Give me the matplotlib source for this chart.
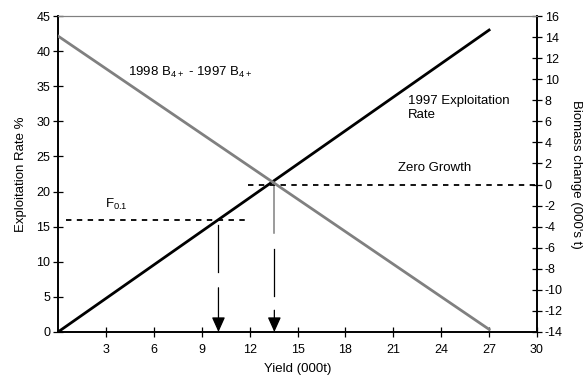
import matplotlib
matplotlib.use("Agg")
import matplotlib.pyplot as plt

plt.rcParams['font.family'] = ['Liberation Sans', 'DejaVu Sans']
plt.rcParams['mathtext.default'] = 'regular'
plt.rcParams['axes.unicode_minus'] = False
plt.rcParams['font.size'] = 9

# Data
yield_er = [0, 27]            # 1997 exploitation rate line (x)
rate_er = [0, 43]             # exploitation rate % (left axis)
yield_bc = [0, 27]            # biomass change line (x)
biomass_bc = [14.1, -13.75]   # biomass change (000's t), right axis
f01_level = 16
f01_x = [0.5, 11.9]
zero_x = [11.9, 30]
f01_yield = 10.05
zg_yield = 13.55

xticks = list(range(3, 31, 3))
left_ticks = list(range(0, 46, 5))
right_ticks = list(range(-14, 17, 2))

fig = plt.figure(figsize=(5.88, 3.77), dpi=100)
ax = fig.add_axes([58/588, 45/377, (537-58)/588, (332-16)/377])
ax2 = ax.twinx()

ax.set_xlim(0, 30)
ax.set_ylim(0, 45)
ax2.set_ylim(-14, 16)

ax.plot(yield_er, rate_er, color='black', lw=2, zorder=3)
ax2.plot(yield_bc, biomass_bc, color='#808080', lw=2, zorder=3)

# dashed reference lines
ax.plot(f01_x, [f01_level, f01_level], color='black', lw=1.3, ls=(0, (3, 3)))
ax2.plot(zero_x, [0, 0], color='black', lw=1.3, ls=(0, (3, 3)))

# arrow 1 (F0.1)
ax.plot([f01_yield, f01_yield], [15.2, 8.5], color='black', lw=0.9)
ax.annotate('', xy=(f01_yield, 0), xytext=(f01_yield, 6.3),
            arrowprops=dict(arrowstyle='-|>,head_length=1.0,head_width=0.45',
                            color='black', lw=0.9, shrinkA=0, shrinkB=0))
# arrow 2 (zero growth)
ax.plot([zg_yield, zg_yield], [20.9, 14.1], color='#808080', lw=1.1)
ax.plot([zg_yield, zg_yield], [11.8, 5.1], color='black', lw=0.9)
ax.annotate('', xy=(zg_yield, 0), xytext=(zg_yield, 3.1),
            arrowprops=dict(arrowstyle='-|>,head_length=1.0,head_width=0.45',
                            color='black', lw=0.9, shrinkA=0, shrinkB=0))

# text labels
fs = 9.5
ax.text(4.4, 37.0, '1998 B$_{4+}$ - 1997 B$_{4+}$', fontsize=fs, va='center', ha='left')
ax.text(21.9, 31.9, '1997 Exploitation\nRate', fontsize=fs, va='center', ha='left', linespacing=1.25)
ax.text(21.3, 23.4, 'Zero Growth', fontsize=fs, va='center', ha='left')
ax.text(2.95, 18.2, 'F$_{0.1}$', fontsize=fs, va='center', ha='left')

ax.set_xticks(xticks)
ax.set_yticks(left_ticks)
ax2.set_yticks(right_ticks)
ax.tick_params(axis='both', direction='inout', length=7, width=0.9, labelsize=9, pad=2)
ax.tick_params(axis='x', pad=5)
ax2.tick_params(axis='y', direction='inout', length=7, width=0.9, labelsize=9, pad=2)

for a in (ax, ax2):
    a.spines['top'].set_color('#808080')
    a.spines['top'].set_linewidth(0.8)
    a.spines['left'].set_linewidth(1.2)
    a.spines['bottom'].set_linewidth(1.2)
    a.spines['right'].set_linewidth(1.2)

ax.set_xlabel('Yield (000t)', fontsize=fs, labelpad=5)
ax.set_ylabel('Exploitation Rate %', fontsize=fs, labelpad=7)
ax2.set_ylabel("Biomass change (000's t)", fontsize=fs, rotation=-90, labelpad=14)

fig.savefig('out.png', dpi=100)
